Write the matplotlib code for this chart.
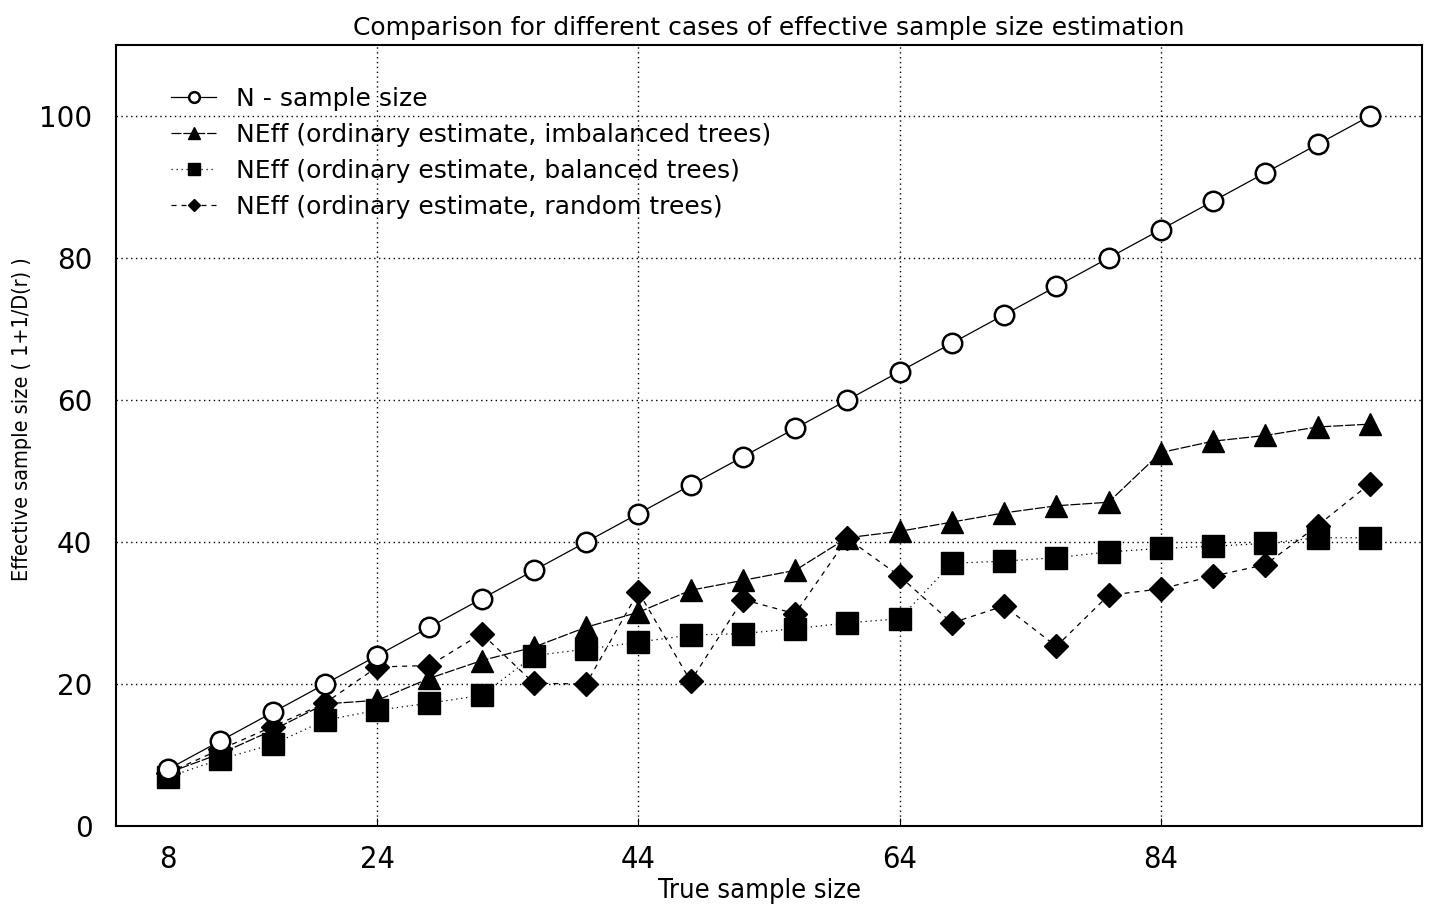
import matplotlib
matplotlib.use("Agg")
import matplotlib.pyplot as plt

# true sample size
true_n = [8, 12, 16, 20, 24, 28, 32, 36, 40, 44, 48, 52,
          56, 60, 64, 68, 72, 76, 80, 84, 88, 92, 96, 100]

# effective sample size estimates
n_sample = [8, 12, 16, 20, 24, 28, 32, 36, 40, 44, 48, 52,
            56, 60, 64, 68, 72, 76, 80, 84, 88, 92, 96, 100]
neff_imbalanced = [7.5, 10.2, 13.5, 17.2, 17.7, 20.8, 23.3, 25.2, 28.0, 30.1, 33.2, 34.6,
                   36.0, 40.6, 41.5, 42.8, 44.1, 45.1, 45.6, 52.6, 54.2, 55.0, 56.2, 56.6]
neff_balanced = [6.9, 9.4, 11.5, 14.9, 16.3, 17.3, 18.4, 24.0, 24.9, 25.9, 26.9, 27.1,
                 27.8, 28.6, 29.2, 37.0, 37.3, 37.8, 38.6, 39.1, 39.4, 39.8, 40.6, 40.6]
neff_random = [7.5, 10.8, 14.0, 17.3, 22.4, 22.6, 27.1, 20.1, 20.0, 33.0, 20.4, 31.9,
               29.9, 40.5, 35.2, 28.6, 31.0, 25.3, 32.5, 33.4, 35.2, 36.8, 42.3, 48.2]

labels = ["N - sample size",
          "NEff (ordinary estimate, imbalanced trees)",
          "NEff (ordinary estimate, balanced trees)",
          "NEff (ordinary estimate, random trees)"]

xticks = [8, 24, 44, 64, 84]
yticks = [0, 20, 40, 60, 80, 100]

narrow = dict(family="DejaVu Sans", stretch="condensed")

fig = plt.figure(figsize=(14.31, 9.05), dpi=100)
ax = fig.add_axes([116 / 1431, 1 - 826 / 905, (1422 - 116) / 1431, (826 - 45) / 905])

lw = 0.9
ax.plot(true_n, n_sample, color="black", lw=lw, ls="-", marker="o", ms=14,
        mfc="white", mec="black", mew=1.8, label=labels[0], zorder=5)
ax.plot(true_n, neff_imbalanced, color="black", lw=lw, ls=(0, (8, 1.5)), marker="^", ms=16,
        mfc="black", mec="black", label=labels[1], zorder=4)
ax.plot(true_n, neff_balanced, color="black", lw=lw, ls=(0, (1, 3)), marker="s", ms=16,
        mfc="black", mec="black", label=labels[2], zorder=3)
ax.plot(true_n, neff_random, color="black", lw=lw, ls=(0, (4, 4)), marker="D", ms=12,
        mfc="black", mec="black", label=labels[3], zorder=3)

ax.set_xlim(4, 104)
ax.set_ylim(0, 110)
ax.set_xticks(xticks)
ax.set_yticks(yticks)
ax.set_xticklabels([str(t) for t in xticks], fontsize=22, **narrow)
ax.set_yticklabels([str(t) for t in yticks], fontsize=20, family="DejaVu Sans")
ax.tick_params(axis="x", direction="in", length=6, pad=14, top=False)
ax.tick_params(axis="y", length=0, pad=17)

ax.grid(True, ls=(0, (1, 2.5)), color="black", lw=1.0)
ax.get_xgridlines()[0].set_visible(False)
ax.get_ygridlines()[0].set_visible(False)
ax.get_xticklines()[0].set_visible(False)

for sp in ax.spines.values():
    sp.set_linewidth(1.5)

ax.set_xlabel("True sample size", fontsize=19.5, **narrow)
ax.set_ylabel("Effective sample size ( 1+1/D(r) )", fontsize=15.5, **narrow)
ax.xaxis.set_label_coords(0.493, -0.066)
ax.yaxis.set_label_coords(-0.064, 0.521)
ax.set_title("Comparison for different cases of effective sample size estimation",
             fontsize=18, family="DejaVu Sans", pad=7)

leg = ax.legend(loc="upper left", frameon=False, fontsize=18, markerscale=0.55,
                handlelength=1.8, bbox_to_anchor=(0.025, 0.975), labelspacing=0.48,
                handletextpad=0.8)

fig.savefig("out.png", dpi=100)
